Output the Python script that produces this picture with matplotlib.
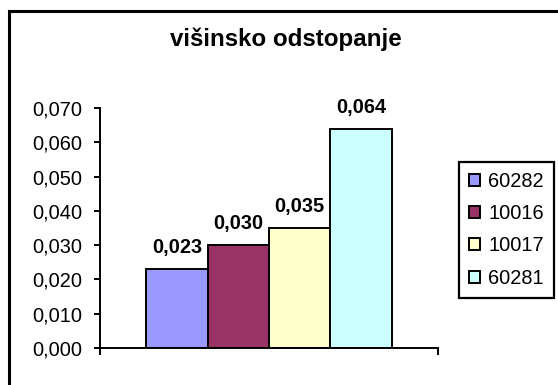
import matplotlib
matplotlib.use("Agg")
import matplotlib.pyplot as plt
from matplotlib.patches import Rectangle, Patch

plt.rcParams['font.family'] = ['Liberation Sans', 'DejaVu Sans']

title = "višinsko odstopanje"
series_names = ["60282", "10016", "10017", "60281"]
values = [0.023, 0.030, 0.035, 0.064]
colors = ["#9999FF", "#993366", "#FFFFCC", "#CCFFFF"]
y_ticks = [0.000, 0.010, 0.020, 0.030, 0.040, 0.050, 0.060, 0.070]
y_tick_labels = [f"{v:.3f}".replace(".", ",") for v in y_ticks]

W, H = 558, 385
fig = plt.figure(figsize=(W / 100, H / 100), dpi=100)

# outer chart frame (runs off the right and bottom edges)
frame = Rectangle((8.5 / W, -0.1), 1.2, 1 - 11.5 / H + 0.1,
                  transform=fig.transFigure, fill=False,
                  edgecolor="black", linewidth=2.2, zorder=0)
fig.patches.append(frame)

ax = fig.add_axes([100 / W, (H - 348) / H, 338 / W, 240 / H])

group_width = 0.725
n = len(values)
bw = group_width / n
start = 0.5 - group_width / 2
for i, (name, v, c) in enumerate(zip(series_names, values, colors)):
    x = start + bw * (i + 0.5)
    ax.bar(x, v, width=bw, color=c, edgecolor="black", linewidth=1.4,
           label=name, zorder=2)
    ax.annotate(f"{v:.3f}".replace(".", ","), (x, v), xytext=(0, 11.5),
                textcoords="offset points", ha="center", va="baseline",
                fontsize=14.4, fontweight="bold")

ax.set_xlim(0, 1)
ax.set_ylim(0, 0.07)
ax.set_yticks(y_ticks)
ax.set_yticklabels(y_tick_labels, fontsize=14.4)
ax.set_xticks([0, 1])
ax.set_xticklabels([])
ax.tick_params(axis="y", direction="out", length=4.5, width=1.4, pad=8)
ax.tick_params(axis="x", direction="out", length=5, width=1.4)
for s in ("top", "right"):
    ax.spines[s].set_visible(False)
for s in ("left", "bottom"):
    ax.spines[s].set_linewidth(1.4)
ax.patch.set_alpha(0)

fig.text(286 / W, 1 - 46 / H, title, ha="center", va="baseline",
         fontsize=17.4, fontweight="bold")

handles = [Patch(facecolor=c, edgecolor="black", linewidth=1.4) for c in colors]
leg = fig.legend(handles, series_names, loc="upper left",
                 bbox_to_anchor=(459 / W, 1 - 162 / H),
                 fontsize=14.4, frameon=True, fancybox=False, shadow=False,
                 borderaxespad=0, borderpad=0.5, labelspacing=0.66,
                 handlelength=0.55, handleheight=0.55, handletextpad=0.4)
leg.get_frame().set_edgecolor("black")
leg.get_frame().set_linewidth(1.6)
leg.get_frame().set_alpha(1)

fig.savefig("out.png", dpi=100)
